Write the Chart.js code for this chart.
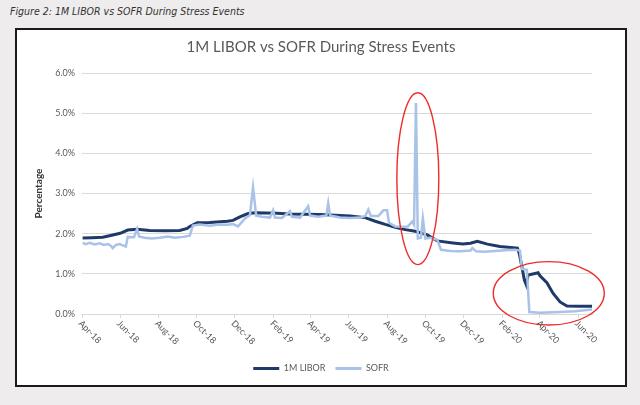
<!DOCTYPE html>
<html><head><meta charset="utf-8">
<script src="https://cdn.jsdelivr.net/npm/chart.js@4.4.1/dist/chart.umd.min.js"></script>
<style>
html,body{margin:0;padding:0;background:#eeecec;width:640px;height:405px;overflow:hidden}
#cap{position:absolute;left:10px;top:5px;font-family:'DejaVu Sans Condensed','DejaVu Sans',sans-serif;font-stretch:condensed;font-style:italic;font-size:10.5px;color:#333;white-space:nowrap}
#box{position:absolute;left:15px;top:28px;width:608px;height:355px;background:#fff;border:2px solid #1b1b1b}
#box canvas{display:block}
</style></head><body>
<div id="cap">Figure 2: 1M LIBOR vs SOFR During Stress Events</div>
<div id="box"><canvas id="c" width="608" height="355"></canvas></div>
<script>
const tickDates = ['2018-04-01','2018-06-01','2018-08-01','2018-10-01','2018-12-01','2019-02-01','2019-04-01','2019-06-01','2019-08-01','2019-10-01','2019-12-01','2020-02-01','2020-04-01','2020-06-01'];
const tickLabels = ['Apr-18','Jun-18','Aug-18','Oct-18','Dec-18','Feb-19','Apr-19','Jun-19','Aug-19','Oct-19','Dec-19','Feb-20','Apr-20','Jun-20'];

const liborDates = ['2018-04-02','2018-04-17','2018-05-04','2018-05-15','2018-06-01','2018-06-13','2018-06-28','2018-07-18','2018-08-11','2018-09-04','2018-09-16','2018-09-20','2018-10-02','2018-10-22','2018-11-19','2018-11-28','2018-12-09','2018-12-22','2019-01-02','2019-02-06','2019-02-27','2019-04-16','2019-05-10','2019-06-03','2019-06-27','2019-07-13','2019-07-29','2019-08-14','2019-08-30','2019-09-15','2019-10-04','2019-10-20','2019-11-14','2019-11-30','2019-12-12','2019-12-23','2020-01-08','2020-01-28','2020-02-25','2020-02-28','2020-03-04','2020-03-07','2020-03-10','2020-03-13','2020-03-24','2020-03-29','2020-04-01','2020-04-12','2020-04-22','2020-05-03','2020-05-14','2020-06-04','2020-06-23'];
const liborValues = [1.89,1.90,1.91,1.95,2.01,2.09,2.11,2.08,2.07,2.08,2.13,2.18,2.27,2.28,2.31,2.33,2.42,2.50,2.52,2.51,2.49,2.48,2.46,2.44,2.40,2.31,2.23,2.16,2.10,2.06,1.97,1.82,1.77,1.74,1.76,1.81,1.74,1.68,1.64,1.50,1.10,0.85,0.73,0.97,1.01,1.03,0.95,0.78,0.51,0.30,0.20,0.19,0.19];

const sofrDates = ['2018-04-02','2018-04-07','2018-04-13','2018-04-21','2018-04-29','2018-05-06','2018-05-12','2018-05-17','2018-05-20','2018-05-25','2018-05-31','2018-06-05','2018-06-10','2018-06-13','2018-06-23','2018-06-28','2018-07-01','2018-07-10','2018-07-21','2018-08-03','2018-08-16','2018-08-27','2018-09-09','2018-09-20','2018-09-25','2018-10-06','2018-10-22','2018-11-07','2018-11-20','2018-11-28','2018-12-06','2018-12-11','2018-12-17','2018-12-25','2018-12-30','2019-01-04','2019-01-13','2019-01-26','2019-01-31','2019-02-03','2019-02-14','2019-02-27','2019-03-02','2019-03-15','2019-03-28','2019-03-31','2019-04-13','2019-04-26','2019-04-29','2019-05-02','2019-05-18','2019-06-03','2019-06-19','2019-06-27','2019-07-02','2019-07-06','2019-07-18','2019-07-26','2019-08-01','2019-08-04','2019-08-14','2019-08-25','2019-09-03','2019-09-10','2019-09-13','2019-09-16','2019-09-19','2019-09-24','2019-09-27','2019-10-01','2019-10-09','2019-10-20','2019-10-26','2019-11-10','2019-11-26','2019-12-12','2019-12-15','2019-12-21','2020-01-04','2020-01-20','2020-02-05','2020-02-21','2020-02-29','2020-03-03','2020-03-11','2020-03-15','2020-04-01','2020-05-03','2020-05-27','2020-06-23'];
const sofrValues = [1.77,1.74,1.77,1.73,1.76,1.72,1.74,1.70,1.64,1.72,1.74,1.71,1.68,1.92,1.91,2.12,1.93,1.90,1.88,1.90,1.93,1.90,1.92,1.95,2.20,2.23,2.20,2.23,2.22,2.24,2.18,2.27,2.38,2.46,3.15,2.45,2.42,2.40,2.58,2.40,2.39,2.56,2.42,2.40,2.68,2.45,2.42,2.45,2.76,2.45,2.40,2.39,2.40,2.44,2.60,2.44,2.44,2.58,2.58,2.27,2.18,2.17,2.18,2.30,2.22,5.25,1.88,1.90,2.38,1.88,1.90,1.85,1.60,1.57,1.56,1.58,1.64,1.56,1.55,1.57,1.59,1.60,1.58,1.12,1.10,0.05,0.03,0.05,0.07,0.11];

const ellipses = [
  {date:'2019-09-19', value:3.37, rxDays:33.5, ryPct:2.14},
  {date:'2020-04-15', value:0.515, rxDays:88.6, ryPct:0.79}
];

const BASE = Date.UTC(2018,3,1);
const toDay = s => (Date.parse(s + 'T00:00:00Z') - BASE) / 86400000;
const pts = (ds, vs) => ds.map((d,i) => ({x: toDay(d), y: vs[i]}));

const FONT = 'Lato, "Open Sans", sans-serif';
const GREY = '#595959';

const xLabels = {
  id: 'xLabels',
  afterDraw(chart) {
    const xs = chart.scales.x, ctx = chart.ctx;
    ctx.save();
    ctx.fillStyle = GREY;
    ctx.font = '9px ' + FONT;
    ctx.textAlign = 'left';
    ctx.textBaseline = 'middle';
    xs.ticks.forEach((t, i) => {
      const px = xs.getPixelForValue(t.value);
      ctx.save();
      ctx.translate(px - 2, xs.top + 8);
      ctx.rotate(Math.PI / 4);
      ctx.fillText(tickLabels[i], 0, 0);
      ctx.restore();
    });
    ctx.restore();
  }
};

const rings = {
  id: 'rings',
  afterDatasetsDraw(chart) {
    const xs = chart.scales.x, ys = chart.scales.y, ctx = chart.ctx;
    ctx.save();
    ctx.strokeStyle = '#ef2b2b';
    ctx.lineWidth = 1.4;
    ellipses.forEach(e => {
      const d = toDay(e.date);
      const cx = xs.getPixelForValue(d), cy = ys.getPixelForValue(e.value);
      const rx = xs.getPixelForValue(d + e.rxDays) - cx;
      const ry = ys.getPixelForValue(0) - ys.getPixelForValue(e.ryPct);
      ctx.beginPath();
      ctx.ellipse(cx, cy, rx, ry, 0, 0, Math.PI * 2);
      ctx.stroke();
    });
    ctx.restore();
  }
};

new Chart(document.getElementById('c'), {
  type: 'line',
  data: {
    datasets: [
      {label: '1M LIBOR', data: pts(liborDates, liborValues), borderColor: '#1f3a68', backgroundColor: '#1f3a68', borderWidth: 3, pointRadius: 0, order: 1},
      {label: 'SOFR', data: pts(sofrDates, sofrValues), borderColor: '#a9c2e8', backgroundColor: '#a9c2e8', borderWidth: 2.5, pointRadius: 0, order: 0}
    ]
  },
  options: {
    responsive: false,
    animation: false,
    devicePixelRatio: 1,
    layout: {padding: {left: 0, right: 0, top: 0, bottom: 2}},
    plugins: {
      title: {display: true, text: '1M LIBOR vs SOFR During Stress Events', color: GREY, font: {family: FONT, size: 15, weight: 'normal'}, padding: {top: 8, bottom: 17}},
      legend: {
        position: 'bottom',
        labels: {
          boxWidth: 26, boxHeight: 3, color: GREY, font: {family: FONT, size: 9}, padding: 10,
          sort: (a, b) => a.datasetIndex - b.datasetIndex,
          generateLabels: (chart) => Chart.defaults.plugins.legend.labels.generateLabels(chart).map(it => Object.assign(it, {lineWidth: 0}))
        }
      },
      tooltip: {enabled: false}
    },
    scales: {
      x: {
        type: 'linear',
        min: 0,
        max: toDay('2020-06-23'),
        afterBuildTicks: s => { s.ticks = tickDates.map(d => ({value: toDay(d)})); },
        afterFit: s => { s.height = 40; },
        ticks: {display: false},
        grid: {drawOnChartArea: false, drawTicks: true, tickLength: 4, color: '#d9d9d9'},
        border: {color: '#d9d9d9'}
      },
      y: {
        min: 0, max: 6,
        afterFit: s => { s.width = 65; },
        ticks: {stepSize: 1, color: GREY, font: {family: FONT, size: 9}, padding: 7, callback: v => v.toFixed(1) + '%'},
        grid: {color: '#d9d9d9', drawTicks: false},
        border: {display: false},
        title: {display: true, text: 'Percentage', color: '#333', font: {family: FONT, size: 10, weight: 'bold'}, padding: {top: 16, bottom: 0}}
      },
      yRight: {
        position: 'right',
        min: 0, max: 6,
        afterFit: s => { s.width = 33; },
        ticks: {display: false},
        grid: {display: false},
        border: {display: false}
      }
    }
  },
  plugins: [rings, xLabels]
});
</script></body></html>
